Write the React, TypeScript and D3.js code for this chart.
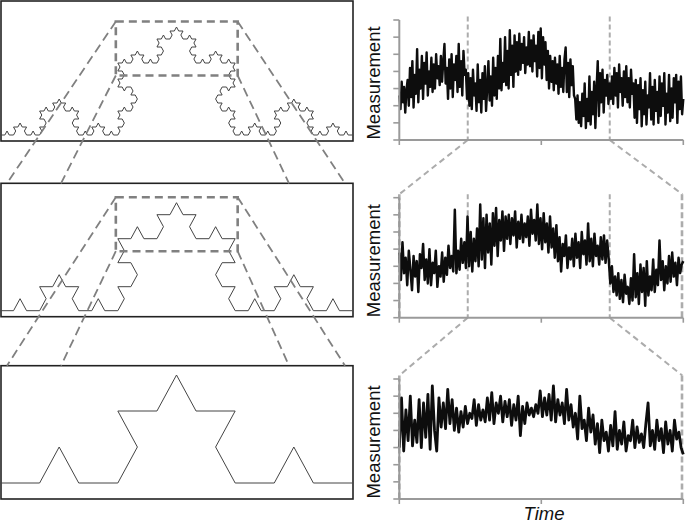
import React from 'react';
import * as d3 from 'd3';

// ---------- data ----------
const series1 = [
  2.6, 1.8, 3.4, 2.2, 3.1, 1.6, 2.9, 3.5, 2.0, 4.2,
  2.5, 4.6, 1.9, 3.8, 2.7, 5.3, 2.2, 4.1, 3.0, 4.9,
  2.4, 4.5, 3.3, 5.1, 2.6, 4.0, 3.1, 4.8, 2.8, 4.4,
  3.0, 5.0, 3.6, 4.3, 3.2, 4.9, 3.4, 4.6, 5.6, 3.3,
  4.2, 2.4, 4.7, 3.0, 5.0, 2.5, 4.4, 3.5, 4.9, 2.8,
  5.6, 3.1, 4.6, 2.6, 5.2, 3.8, 4.1, 2.4, 3.9, 2.0,
  3.6, 1.8, 4.1, 2.6, 3.3, 1.7, 4.4, 2.2, 3.5, 1.6,
  3.9, 2.4, 4.3, 1.7, 3.1, 4.6, 2.3, 3.7, 2.0, 4.8,
  2.6, 4.2, 2.4, 4.9, 3.0, 5.9, 2.9, 4.5, 3.4, 6.0,
  3.2, 5.2, 3.0, 6.4, 3.8, 5.5, 3.1, 6.1, 4.0, 5.7,
  3.8, 6.2, 4.1, 5.6, 4.5, 6.0, 3.9, 5.4, 4.4, 6.3,
  4.3, 5.8, 4.0, 6.1, 4.6, 5.5, 3.7, 6.3, 4.2, 6.5,
  3.6, 6.0, 4.4, 5.7, 3.5, 5.2, 3.0, 4.9, 3.4, 4.6,
  2.9, 4.8, 3.3, 4.4, 2.7, 4.9, 3.1, 4.2, 2.8, 4.7,
  5.4, 2.8, 4.5, 2.5, 4.7, 3.2, 4.3, 2.6, 2.4, 1.2,
  2.6, 1.0, 2.2, 0.8, 2.7, 1.4, 3.3, 0.7, 2.4, 1.1,
  3.7, 0.9, 2.8, 1.5, 3.4, 0.7, 3.0, 4.6, 1.4, 3.9,
  2.2, 4.1, 1.6, 3.5, 2.6, 3.8, 2.1, 3.3, 2.4, 3.7,
  2.1, 4.2, 2.6, 3.9, 1.9, 4.4, 2.8, 3.6, 2.0, 4.0,
  2.5, 4.3, 2.2, 3.6, 1.9, 4.1, 2.7, 3.3, 1.3, 3.5,
  1.0, 3.2, 1.8, 3.6, 0.8, 2.9, 1.5, 3.4, 0.9, 2.6,
  1.9, 3.9, 1.2, 3.1, 0.9, 3.5, 1.7, 2.8, 1.0, 3.7,
  1.4, 3.3, 2.0, 3.9, 0.9, 2.7, 1.6, 3.8, 1.1, 3.0,
  1.3, 3.6, 2.2, 3.8, 1.0, 3.4, 1.8, 3.7, 1.5, 2.4,
];

const series2 = [
  3.8, 2.2, 4.4, 2.6, 3.5, 1.9, 3.9, 2.8, 1.6, 3.6,
  2.4, 3.3, 1.5, 3.7, 2.9, 4.3, 2.2, 3.4, 2.0, 4.0,
  1.9, 3.2, 2.6, 3.9, 1.8, 3.0, 2.4, 3.8, 2.1, 3.5,
  2.5, 4.2, 2.9, 3.6, 2.7, 6.3, 2.6, 3.9, 2.8, 4.6,
  3.2, 4.4, 2.9, 5.9, 3.0, 5.0, 2.7, 4.6, 3.3, 5.2,
  3.0, 6.6, 3.4, 5.8, 2.9, 6.0, 3.8, 5.5, 3.1, 6.1,
  4.2, 6.4, 3.6, 5.7, 4.5, 6.2, 3.9, 5.9, 4.6, 6.0,
  4.3, 5.8, 4.8, 6.2, 4.1, 5.6, 4.6, 6.0, 4.4, 5.5,
  4.7, 5.9, 4.2, 6.3, 4.9, 5.7, 4.5, 6.6, 4.3, 5.8,
  4.0, 6.1, 4.4, 5.5, 3.8, 5.9, 4.1, 5.2, 3.5, 5.4,
  3.3, 4.7, 2.7, 4.3, 3.6, 4.8, 2.9, 4.1, 3.4, 4.6,
  3.0, 4.9, 3.5, 4.4, 2.9, 5.0, 3.7, 4.5, 3.1, 5.5,
  3.3, 4.6, 3.0, 4.9, 3.6, 4.2, 3.1, 4.7, 3.4, 4.8,
  3.2, 4.5, 3.4, 2.0, 3.0, 1.5, 2.4, 1.3, 2.6, 1.1,
  2.2, 0.9, 2.5, 1.4, 1.8, 0.8, 2.3, 1.0, 3.7, 1.2,
  2.6, 0.8, 3.1, 1.5, 2.9, 0.7, 3.3, 1.3, 2.4, 1.6,
  3.4, 1.5, 2.8, 1.9, 4.5, 2.2, 3.3, 1.6, 3.0, 2.0,
  3.6, 2.1, 3.8, 2.4, 3.2, 1.9, 3.5, 2.6, 3.1, 3.3,
];

const series3 = [
  3.0, 5.9, 2.8, 5.2, 3.4, 6.0, 3.1, 4.6, 3.3, 5.8,
  3.0, 5.6, 3.6, 6.1, 2.9, 6.6, 4.0, 2.8, 5.9, 4.2,
  5.6, 4.1, 6.4, 4.4, 5.8, 4.0, 5.3, 3.9, 5.1, 4.2,
  5.4, 4.4, 5.0, 4.7, 5.8, 4.3, 5.5, 4.6, 5.2, 4.5,
  5.9, 4.6, 6.2, 4.4, 5.6, 5.0, 6.0, 4.5, 5.7, 4.8,
  5.8, 4.3, 5.5, 4.6, 6.0, 3.7, 5.4, 4.4, 5.6, 4.9,
  5.3, 4.8, 5.5, 5.0, 6.3, 4.8, 5.9, 4.9, 6.1, 4.6,
  6.6, 4.5, 5.8, 4.9, 5.6, 4.4, 6.4, 4.6, 5.5, 4.2,
  5.0, 3.5, 6.0, 4.1, 4.6, 3.4, 5.3, 3.9, 4.9, 3.2,
  4.4, 2.7, 4.6, 3.4, 3.9, 2.8, 4.3, 3.1, 5.1, 2.9,
  4.0, 3.2, 4.5, 2.8, 3.7, 3.4, 4.6, 3.0, 4.2, 3.3,
  3.8, 3.0, 4.4, 5.6, 3.1, 4.0, 2.9, 4.6, 3.4, 4.1,
  2.7, 4.5, 3.2, 4.0, 2.8, 4.6, 3.5, 3.9, 3.0, 2.6,
];

const allSeries = [series1, series2, series3];
const kochLevels = [4, 3, 2];
const yTickValues = [0, 1, 2, 3, 4, 5, 6, 7];
const xTickFractions = [0, 0.5, 1];
const zoomWindow = [0.241, 0.741];
const yLabel = 'Measurement';
const xLabel = 'Time';

// ---------- layout ----------
const W = 685;
const H = 525;
const leftX = [0.5, 352.5];
const leftPanels = [
  { top: 1, bottom: 141, base: 135 },
  { top: 183.3, bottom: 316.7, base: 310.7 },
  { top: 365.7, bottom: 499, base: 483 },
];
const kochHeightPx = 108;
const connectorTargets = [7, 61, 345, 289]; // tl, bl, tr, br target x on next panel top
const rightX = [399.3, 683.3];
const rightPanels = [
  { top: 20, bottom: 140 },
  { top: 197.7, bottom: 317.7 },
  { top: 379, bottom: 499 },
];
const seriesWidths = [2.4, 2.5, 2.8];

function koch(level: number): [number, number][] {
  let pts: [number, number][] = [[0, 0], [1, 0]];
  const c = Math.cos(Math.PI / 3);
  const s = Math.sin(Math.PI / 3);
  for (let l = 0; l < level; l++) {
    const next: [number, number][] = [pts[0]];
    for (let i = 0; i < pts.length - 1; i++) {
      const [x0, y0] = pts[i];
      const [x1, y1] = pts[i + 1];
      const dx = (x1 - x0) / 3;
      const dy = (y1 - y0) / 3;
      const a: [number, number] = [x0 + dx, y0 + dy];
      const b: [number, number] = [x0 + 2 * dx, y0 + 2 * dy];
      const p: [number, number] = [a[0] + dx * c - dy * s, a[1] + dx * s + dy * c];
      next.push(a, p, b, [x1, y1]);
    }
    pts = next;
  }
  return pts;
}

const KH = Math.sqrt(3) / 6;

export default function App() {
  const xK = d3.scaleLinear().domain([0, 1]).range(leftX);
  const dashGray = '#808080';
  const lightGray = '#acacac';

  const leftEls: React.ReactNode[] = [];
  const rects: { x0: number; x1: number; y0: number; y1: number }[] = [];

  leftPanels.forEach((p, k) => {
    const yK = d3.scaleLinear().domain([0, KH]).range([p.base, p.base - kochHeightPx]);
    const line = d3
      .line<[number, number]>()
      .x((d) => xK(d[0]))
      .y((d) => yK(d[1]));
    leftEls.push(
      <rect key={'r' + k} x={1} y={p.top} width={352} height={p.bottom - p.top}
        fill="white" stroke="#222" strokeWidth={1.6} />
    );
    leftEls.push(
      <path key={'k' + k} d={line(koch(kochLevels[k])) || ''} fill="none" stroke="#444" strokeWidth={1} />
    );
    if (k < 2) {
      const r = {
        x0: xK(1 / 3) - 2,
        x1: xK(2 / 3) + 2.5,
        y0: yK(KH) - 5.5,
        y1: yK((2 * KH) / 3) + 12.5,
      };
      rects.push(r);
    }
  });

  const overlay: React.ReactNode[] = [];
  rects.forEach((r, k) => {
    overlay.push(
      <rect key={'dr' + k} x={r.x0} y={r.y0} width={r.x1 - r.x0} height={r.y1 - r.y0}
        fill="none" stroke={dashGray} strokeWidth={2.6} strokeDasharray="8,5" />
    );
    const nextTop = leftPanels[k + 1].top;
    const corners: [number, number][] = [
      [r.x0, r.y0], [r.x0, r.y1], [r.x1, r.y0], [r.x1, r.y1],
    ];
    corners.forEach((c, j) => {
      overlay.push(
        <line key={'cl' + k + j} x1={c[0]} y1={c[1]} x2={connectorTargets[j]} y2={nextTop}
          stroke={dashGray} strokeWidth={1.8} strokeDasharray="9,5" />
      );
    });
  });

  // right panels
  const xR = d3.scaleLinear().domain([0, 1]).range(rightX);
  const rightEls: React.ReactNode[] = [];
  rightPanels.forEach((p, k) => {
    const data = allSeries[k];
    const xs = d3.scaleLinear().domain([0, data.length - 1]).range(rightX);
    const ys = d3.scaleLinear().domain([0, 7]).range([p.bottom, p.top]);
    const line = d3
      .line<number>()
      .x((_, i) => xs(i))
      .y((d) => ys(d));
    const axisColor = '#9a9a9a';
    const wx = zoomWindow.map((f) => xR(f));
    if (k < 2) {
      wx.forEach((x, j) => {
        rightEls.push(
          <line key={'wv' + k + j} x1={x} x2={x} y1={p.top - 3.5} y2={p.bottom}
            stroke={lightGray} strokeWidth={2} strokeDasharray="5,3" />
        );
      });
      const next = rightPanels[k + 1];
      rightEls.push(
        <line key={'wd0' + k} x1={wx[0]} y1={p.bottom} x2={rightX[0]} y2={next.top - 3.5}
          stroke={lightGray} strokeWidth={2} strokeDasharray="6,4" />
      );
      rightEls.push(
        <line key={'wd1' + k} x1={wx[1]} y1={p.bottom} x2={rightX[1] - 1} y2={next.top - 3.5}
          stroke={lightGray} strokeWidth={2} strokeDasharray="6,4" />
      );
    }
    if (k > 0) {
      [rightX[0], rightX[1] - 1.3].forEach((x, j) => {
        rightEls.push(
          <line key={'ev' + k + j} x1={x} x2={x} y1={p.top - 3.5} y2={p.bottom}
            stroke={lightGray} strokeWidth={2.6} strokeDasharray="6,3" />
        );
      });
    }
    rightEls.push(
      <path key={'s' + k} d={line(data) || ''} fill="none" stroke="#0d0d0d" strokeWidth={seriesWidths[k]}
        strokeLinejoin="round" />
    );
    rightEls.push(
      <line key={'ya' + k} x1={rightX[0]} x2={rightX[0]} y1={p.top} y2={p.bottom}
        stroke={axisColor} strokeWidth={2} />
    );
    rightEls.push(
      <line key={'xa' + k} x1={rightX[0]} x2={rightX[1]} y1={p.bottom} y2={p.bottom}
        stroke={axisColor} strokeWidth={2} />
    );
    yTickValues.forEach((t) => {
      rightEls.push(
        <line key={'yt' + k + t} x1={rightX[0] - 6} x2={rightX[0]} y1={ys(t)} y2={ys(t)}
          stroke={axisColor} strokeWidth={1.6} />
      );
    });
    xTickFractions.forEach((f) => {
      rightEls.push(
        <line key={'xt' + k + f} x1={xR(f)} x2={xR(f)} y1={p.bottom} y2={p.bottom + 5}
          stroke={axisColor} strokeWidth={1.6} />
      );
    });
    const cy = (p.top + p.bottom) / 2 + 3;
    rightEls.push(
      <text key={'yl' + k} transform={`translate(380,${cy}) rotate(-90)`} textAnchor="middle"
        fontSize={18.5} fontFamily="'Liberation Sans', Arial, sans-serif" fill="#111">
        {yLabel}
      </text>
    );
  });

  return (
    <svg width={W} height={H} style={{ position: 'absolute', left: 0, top: 0, background: 'white' }}>
      <rect x={0} y={0} width={W} height={H} fill="white" />
      {leftEls}
      {overlay}
      {rightEls}
      <text x={544} y={520} textAnchor="middle" fontSize={18.5} fontStyle="italic"
        fontFamily="'Liberation Sans', Arial, sans-serif" fill="#111">
        {xLabel}
      </text>
    </svg>
  );
}
